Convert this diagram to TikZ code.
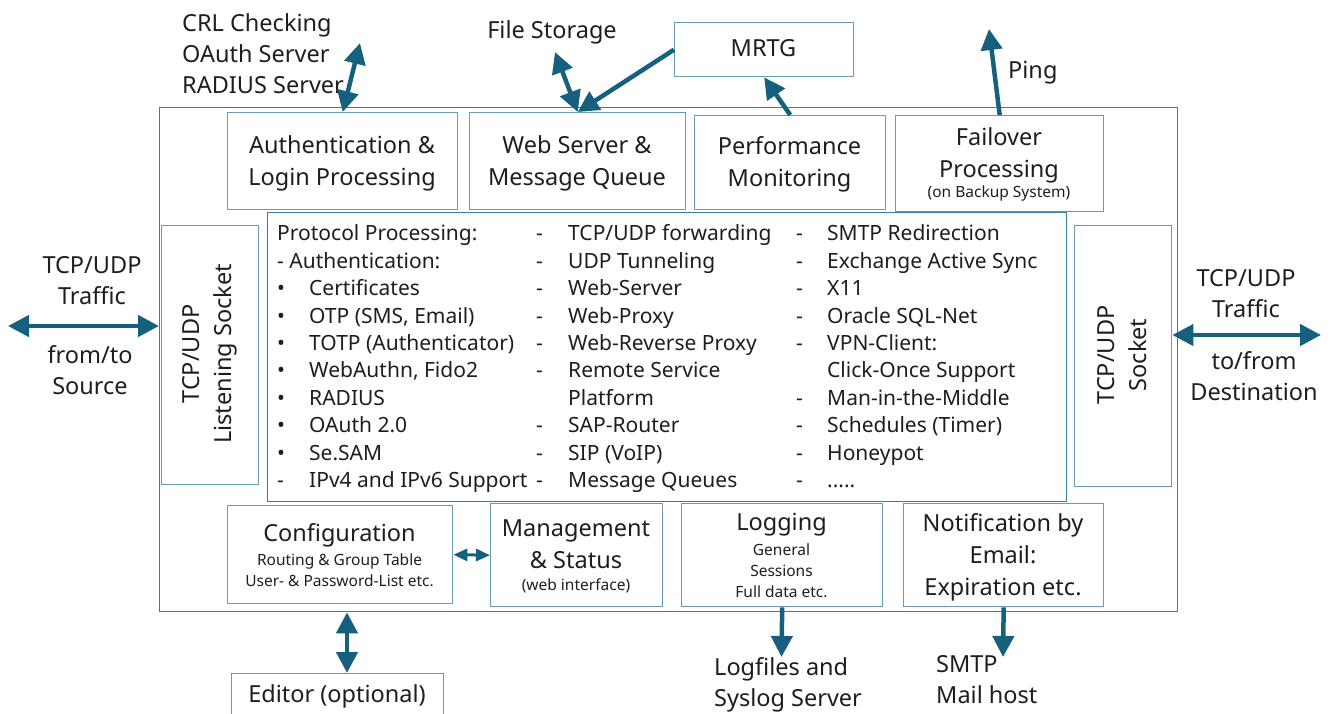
\documentclass[tikz,border=0pt]{standalone}
\usepackage{fontspec}
\setmainfont{Noto Sans}
\usetikzlibrary{arrows.meta}
\definecolor{arrc}{HTML}{16607F}
\definecolor{boxc}{HTML}{6A9BB2}
\definecolor{outc}{HTML}{3D7C9B}
\definecolor{txt}{HTML}{1E1E1E}
\tikzset{
  boxs/.style={draw=boxc, line width=1.4pt, anchor=north west, inner sep=0pt},
  obox/.style={draw=outc, line width=1.4pt, anchor=north west, inner sep=0pt},
  big/.style={font=\fontsize{23.5}{32}\selectfont, text=txt, align=center, inner sep=0pt},
  lbl/.style={font=\fontsize{23.5}{31}\selectfont, text=txt, align=center, inner sep=0pt},
  small/.style={font=\fontsize{15.5}{21}\selectfont, text=txt, align=center, inner sep=0pt},
  lst/.style={font=\fontsize{21}{27.44}\selectfont, text=txt, align=left, anchor=north west, inner sep=0pt},
  arr/.style={draw=arrc, line width=4.5pt, -{Triangle[length=21pt,width=21pt]}},
  darr/.style={draw=arrc, line width=4.5pt, {Triangle[length=21pt,width=21pt]}-{Triangle[length=21pt,width=21pt]}},
  sdarr/.style={draw=arrc, line width=3pt, {Triangle[length=14pt,width=12pt]}-{Triangle[length=14pt,width=12pt]}},
}
\begin{document}
\begin{tikzpicture}[x=1pt,y=-1pt]
\useasboundingbox (0,0) rectangle (1331,713);
\fill[white] (0,0) rectangle (1331,713);

% outer frame
\node[obox, minimum width=1018, minimum height=504] (outer) at (159,107) {};

% top row
\node[boxs, minimum width=230, minimum height=97] (auth) at (227,112) {};
\node[big] (authT) at (342,163) {Authentication \&\\Login Processing};
\node[boxs, minimum width=216, minimum height=97] (web) at (469,112) {};
\node[big] (webT) at (577,163) {Web Server \&\\Message Queue};
\node[boxs, minimum width=191, minimum height=94] (perf) at (694,115) {};
\node[big] (perfT) at (789.5,164) {Performance\\Monitoring};
\node[boxs, minimum width=208, minimum height=96] (fail) at (895,115) {};
\node[big] (failT) at (999,155) {Failover\\Processing};
\node[small] (failS) at (999,193) {(on Backup System)};

\node[boxs, minimum width=179, minimum height=54] (mrtg) at (674,22) {};
\node[big] (mrtgT) at (763.5,48) {MRTG};

% side sockets
\node[boxs, minimum width=97, minimum height=259] (ls) at (161,225) {};
\node[big, rotate=90] (lsT) at (209.5,354) {TCP/UDP\\Listening Socket};
\node[boxs, minimum width=97, minimum height=261] (rs) at (1074,225) {};
\node[big, rotate=90] (rsT) at (1122.5,355) {TCP/UDP\\Socket};

% middle list
\node[obox, minimum width=799, minimum height=289] (mid) at (267,212) {};
\node[lst] (c1a) at (277,221.3) {\strut Protocol Processing:\\- Authentication:\\•\\•\\•\\•\\•\\•\\•\\-};
\node[lst] (c1b) at (309,221.3) {\strut\\\strut\\Certificates\\OTP (SMS, Email)\\TOTP (Authenticator)\\WebAuthn, Fido2\\RADIUS\\OAuth 2.0\\Se.SAM\\IPv4 and IPv6 Support};
\node[lst] (c2a) at (536,221.3) {\strut-\\-\\-\\-\\-\\-\\\strut\\-\\-\\-};
\node[lst] (c2b) at (568,221.3) {\strut TCP/UDP forwarding\\UDP Tunneling\\Web-Server\\Web-Proxy\\Web-Reverse Proxy\\Remote Service\\Platform\\SAP-Router\\SIP (VoIP)\\Message Queues};
\node[lst] (c3a) at (796,221.3) {\strut-\\-\\-\\-\\-\\\strut\\-\\-\\-\\-};
\node[lst] (c3b) at (827,221.3) {\strut SMTP Redirection\\Exchange Active Sync\\X11\\Oracle SQL-Net\\VPN-Client:\\Click-Once Support\\Man-in-the-Middle\\Schedules (Timer)\\Honeypot\\.....};

% bottom row
\node[boxs, minimum width=225, minimum height=98] (config) at (227,505) {};
\node[big] (configT) at (339.5,535) {Configuration};
\node[small] (configS) at (339.5,570) {Routing \& Group Table\\User- \& Password-List etc.};
\node[boxs, minimum width=172, minimum height=103] (mgmt) at (490,503) {};
\node[big] (mgmtT) at (576,544) {Management\\\& Status};
\node[small] (mgmtS) at (576,586) {(web interface)};
\node[boxs, minimum width=201, minimum height=103] (logging) at (681,503) {};
\node[big] (logT) at (781.5,525) {Logging};
\node[small] (logS) at (781.5,570.5) {General\\Sessions\\Full data etc.};
\node[boxs, minimum width=200, minimum height=103] (notif) at (903,503) {};
\node[big] (notifT) at (1003,557) {Notification by\\Email:\\Expiration etc.};

\node[boxs, minimum width=212, minimum height=50] (editor) at (231,673) {};
\node[big] (editorT) at (337,696) {Editor (optional)};

% outside labels
\node[lbl, align=left, anchor=west] (crl) at (182,54) {CRL Checking\\OAuth Server\\RADIUS Server};
\node[lbl] (fs) at (552,32) {File Storage};
\node[lbl, anchor=west] (ping) at (1008,73) {Ping};
\node[lbl] (srcA) at (92,280.5) {TCP/UDP\\Traffic};
\node[lbl] (srcB) at (90,370.5) {from/to\\Source};
\node[lbl] (dstA) at (1246,294) {TCP/UDP\\Traffic};
\node[lbl] (dstB) at (1254,376) {to/from\\Destination};
\node[lbl, align=left, anchor=west] (logf) at (714,685) {Logfiles and\\Syslog Server};
\node[lbl, align=left, anchor=west] (smtp) at (936,679.5) {SMTP\\Mail host};

% free ends
\coordinate (crlend) at (360,43);
\coordinate (fsend) at (555,52);
\coordinate (pingend) at (989,29);
\coordinate (lt) at (8,326);
\coordinate (rt) at (1321,335);
\coordinate (eda) at (347,0);
\coordinate (logend) at (781.5,657);
\coordinate (notifend) at (1003,657);

% connectors
\draw[darr] (auth.north) -- (crlend);
\draw[darr] (fsend) -- (web.north);
\draw[arr] (mrtg.west) -- (web.north);
\draw[arr] (perf.north) -- (mrtg.south);
\draw[arr] (fail.north) -- (pingend);
\draw[darr] (lt) -- (lt -| outer.west);
\draw[darr] (rs.east |- rt) -- (rt);
\draw[sdarr] (config.east) -- (mgmt.west);
\draw[darr] (outer.south -| eda) -- (editor.north -| eda);
\draw[arr] (logging.south) -- (logend);
\draw[arr] (notif.south) -- (notifend);
\end{tikzpicture}
\end{document}
